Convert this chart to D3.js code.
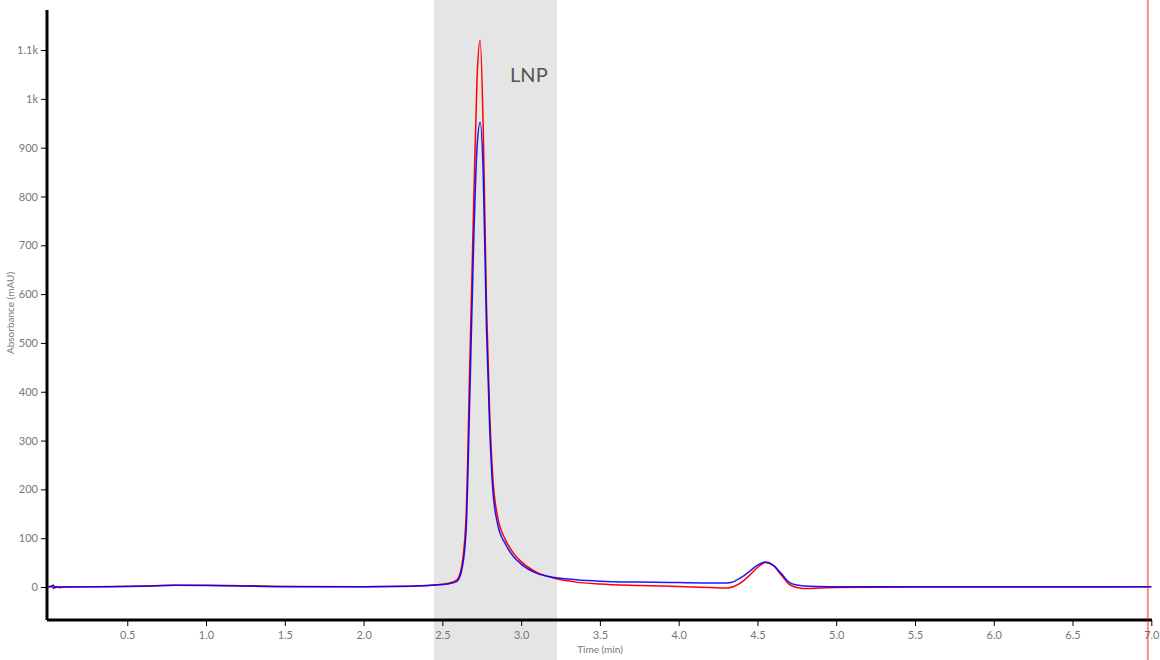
<!DOCTYPE html>
<html>
<head>
<meta charset="utf-8">
<script src="https://cdn.jsdelivr.net/npm/d3@7"></script>
<style>
  body { margin: 0; background: #fff; }
  text { font-family: Lato, "Open Sans", sans-serif; }
</style>
</head>
<body>
<div id="chart"></div>
<script>
var
    width = 1160,
    height = 660;

// retention time (min)
var times = [0, 0.02, 0.03, 0.04, 0.05, 0.07, 0.1, 0.3, 0.6, 0.8, 1.0, 1.3, 1.6, 2.0, 2.3,
             2.45, 2.53, 2.59, 2.62, 2.65, 2.675, 2.7, 2.72, 2.74, 2.76, 2.78, 2.8, 2.82,
             2.85, 2.9, 2.95, 3.0, 3.1, 3.2, 3.35, 3.5, 3.75, 4.0, 4.2, 4.3, 4.35, 4.4,
             4.45, 4.5, 4.55, 4.6, 4.65, 4.7, 4.75, 4.8, 4.9, 5.0, 5.5, 6.0, 6.5, 7.0];

var redTrace = [0, 2, -3, 1, -1, 0.5, 0, 0.5, 2, 3.5, 3.5, 2.5, 1, 0.5, 1.5,
                4, 7, 14, 38, 140, 470, 800, 1040, 1120, 930, 580, 360, 225,
                145, 97, 70, 52, 30, 19, 10, 6, 3, 1, -1, -2, 1, 10,
                24, 40, 50, 44, 25, 6, -1, -3, -2, -1, 0, 0, 0, 0.5];

var blueTrace = [0, 1, 4, -2, 1, -1, 0, 0.5, 1.5, 3.5, 3, 1.5, 0.5, 0.5, 1.5,
                 4, 6, 11, 30, 110, 400, 720, 900, 952, 840, 530, 330, 200,
                 130, 88, 63, 47, 28, 20, 15, 12, 10, 9, 8, 8, 11, 20,
                 32, 45, 51, 45, 28, 10, 4, 2, 1, 0.5, 0.5, 0.5, 0.5, 0.5];

var xTicks = [0.5, 1.0, 1.5, 2.0, 2.5, 3.0, 3.5, 4.0, 4.5, 5.0, 5.5, 6.0, 6.5, 7.0];
var yTicks = [0, 100, 200, 300, 400, 500, 600, 700, 800, 900, 1000, 1100];

var lnpWindow = [2.447, 3.228];
var markerTime = 6.978;

var svg = d3.select("#chart")
        .append("svg")
        .attr("width", width)
        .attr("height", height);

var x = d3.scaleLinear().domain([0, 7]).range([48.5, 1151.3]);
var y = d3.scaleLinear().domain([-67.6, 1182]).range([620, 10]);

// LNP window
svg.append("rect")
    .attr("x", x(lnpWindow[0]))
    .attr("y", 0)
    .attr("width", x(lnpWindow[1]) - x(lnpWindow[0]))
    .attr("height", height)
    .attr("fill", "#e5e5e5");

svg.append("text")
    .attr("x", x(2.93))
    .attr("y", 82)
    .attr("font-size", 20)
    .attr("fill", "#555")
    .text("LNP");

var line = d3.line()
    .x(function(d, i) { return x(times[i]); })
    .y(function(d) { return y(d); })
    .curve(d3.curveMonotoneX);

svg.append("path")
    .datum(redTrace)
    .attr("d", line)
    .attr("fill", "none")
    .attr("stroke", "#ff0000")
    .attr("stroke-width", 1.5);

svg.append("path")
    .datum(blueTrace)
    .attr("d", line)
    .attr("fill", "none")
    .attr("stroke", "#0000ff")
    .attr("stroke-opacity", 0.9)
    .attr("stroke-width", 1.5);

// axes
var xAxis = svg.append("g")
    .attr("transform", "translate(0,620)")
    .call(d3.axisBottom(x).tickValues(xTicks).tickFormat(d3.format(".1f")).tickSizeOuter(0).tickSize(6));

var yAxis = svg.append("g")
    .attr("transform", "translate(47,0)")
    .call(d3.axisLeft(y).tickValues(yTicks).tickFormat(d3.format("~s")).tickSizeOuter(0).tickSize(6));

[xAxis, yAxis].forEach(function(a) {
  a.select(".domain").attr("stroke", "#000").attr("stroke-width", 3);
  a.selectAll(".tick line").attr("stroke", "#000");
  a.selectAll(".tick text").attr("fill", "#777").attr("font-size", 11)
      .style("font-family", "Lato, sans-serif");
});
xAxis.select(".domain").attr("d", "M47,0H1152");
yAxis.select(".domain").attr("d", "M0,10V620");
xAxis.selectAll(".tick text").attr("dy", "0.9em");

svg.append("text")
    .attr("x", 600)
    .attr("y", 653)
    .attr("text-anchor", "middle")
    .attr("font-size", 10)
    .attr("fill", "#777")
    .text("Time (min)");

svg.append("text")
    .attr("transform", "translate(14,313) rotate(-90)")
    .attr("text-anchor", "middle")
    .attr("font-size", 10)
    .attr("fill", "#777")
    .text("Absorbance (mAU)");

// marker line
svg.append("line")
    .attr("x1", x(markerTime))
    .attr("x2", x(markerTime))
    .attr("y1", 0)
    .attr("y2", height)
    .attr("stroke", "#ff0000")
    .attr("stroke-opacity", 0.45)
    .attr("stroke-width", 2);
</script>
</body>
</html>
